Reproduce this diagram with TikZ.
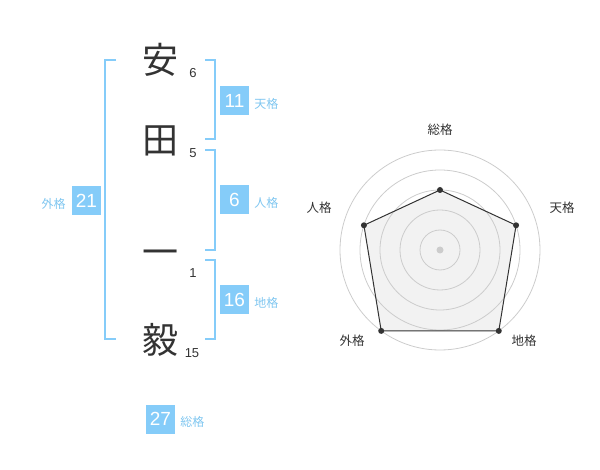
\documentclass[tikz,border=0pt]{standalone}
\usepackage{fontspec}
\setmainfont{Liberation Sans}
\newfontfamily\jfont{Noto Sans CJK JP}
\usetikzlibrary{positioning}
\definecolor{kakublue}{HTML}{85CCF9}
\definecolor{kakutext}{HTML}{7FC6F0}
\definecolor{inkgray}{HTML}{333333}
\definecolor{ringgray}{HTML}{CCCCCC}
\definecolor{areagray}{HTML}{F2F2F2}
\begin{document}
\begin{tikzpicture}
    [x=1pt,y=-1pt
    ,kanji/.style={font=\jfont\fontsize{36}{36}\selectfont,text=inkgray,inner sep=0pt}
    ,strokes/.style={font=\fontsize{13}{13}\selectfont,text=inkgray,inner sep=0pt}
    ,gbox/.style={fill=kakublue,text=white,minimum size=29pt,inner sep=0pt,font=\fontsize{19}{19}\selectfont}
    ,glabel/.style={font=\jfont\fontsize{12}{12}\selectfont,text=kakutext,inner sep=0pt,yshift=-3pt}
    ,bracket/.style={draw=kakublue,line width=1.5pt}
    ,ring/.style={draw=ringgray,line width=0.8pt}
    ,axislabel/.style={font=\jfont\fontsize{12.5}{12.5}\selectfont,text=inkgray,inner sep=0pt}
    ]
    \useasboundingbox (0,0) rectangle (600,470);

    % name
    \node[kanji] (c1) at (160,60) {安};
    \node[kanji] (c2) at (160,141) {田};
    \node[kanji] (c3) at (160,258) {一};
    \node[kanji] (c4) at (160,340) {毅};

    \node[strokes] (s1) at (193,73) {6};
    \node[strokes] (s2) at (193,153) {5};
    \node[strokes] (s3) at (193,273) {1};
    \node[strokes] (s4) at (192,353) {15};

    % brackets
    \draw[bracket] (205,60) -- (215,60) -- (215,139) -- (205,139);
    \draw[bracket] (205,150) -- (215,150) -- (215,250) -- (205,250);
    \draw[bracket] (205,260) -- (215,260) -- (215,339) -- (205,339);
    \draw[bracket] (116,60) -- (105,60) -- (105,339) -- (116,339);

    % kaku
    \node[gbox] (ten) at (234.5,100.5) {11};
    \node[gbox] (jin) at (234.5,200) {6};
    \node[gbox] (chi) at (234.5,300) {16};
    \node[gbox] (gai) at (86.5,200.5) {21};
    \node[gbox] (sou) at (160.5,419) {27};

    \node[glabel,right=5pt of ten] (lten) {天格};
    \node[glabel,right=5pt of jin] (ljin) {人格};
    \node[glabel,right=5pt of chi] (lchi) {地格};
    \node[glabel,left=6pt of gai] (lgai) {外格};
    \node[glabel,right=5pt of sou] (lsou) {総格};

    % radar
    \coordinate (o) at (440,250);
    \path (o) ++(-90:60) coordinate (p1);
    \path (o) ++(-18:80) coordinate (p2);
    \path (o) ++(54:100) coordinate (p3);
    \path (o) ++(126:100) coordinate (p4);
    \path (o) ++(198:80) coordinate (p5);

    \fill[areagray] (p1) -- (p2) -- (p3) -- (p4) -- (p5) -- cycle;
    \foreach \r in {20,40,...,100}
        \draw[ring] (o) circle (\r pt);
    \draw[inkgray,line width=1pt] (p1) -- (p2) -- (p3) -- (p4) -- (p5) -- cycle;
    \foreach \i in {1,...,5}
        \fill[inkgray] (p\i) circle (3pt);
    \fill[ringgray] (o) circle (3.5pt);

    \node[axislabel] (asou) at (440,130) {総格};
    \node[axislabel] (aten) at (562,208) {天格};
    \node[axislabel] (ajin) at (319,208) {人格};
    \node[axislabel] (agai) at (352,341) {外格};
    \node[axislabel] (achi) at (524,341) {地格};

  \end{tikzpicture}
\end{document}
